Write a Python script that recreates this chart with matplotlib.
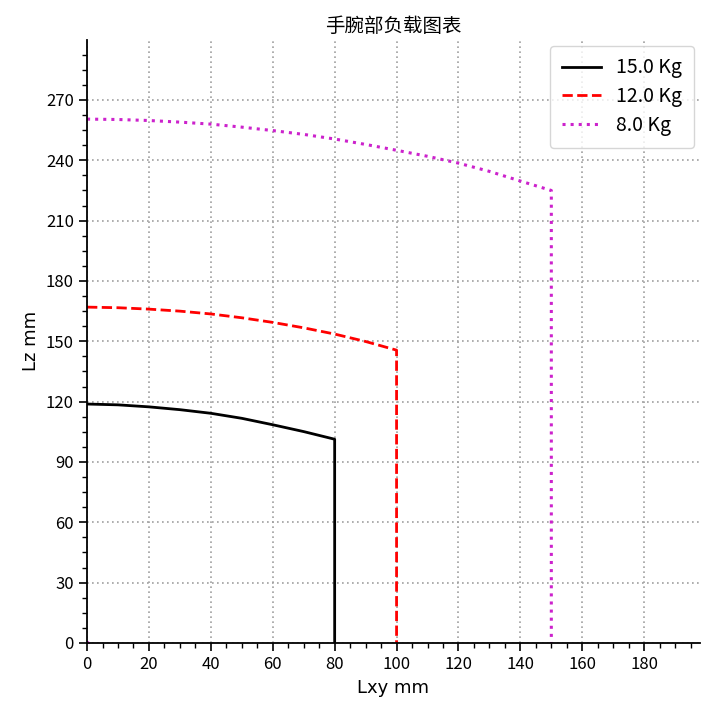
import matplotlib
matplotlib.use('Agg')
import matplotlib.pyplot as plt
from matplotlib.ticker import MultipleLocator

plt.rcParams['font.family'] = ['Noto Sans CJK SC', 'DejaVu Sans']

# 15.0 Kg
x15 = [0, 10, 20, 30, 40, 50, 60, 70, 80, 80]
z15 = [118.8, 118.4, 117.4, 116.0, 114.2, 111.7, 108.5, 105.1, 101.3, 0]
# 12.0 Kg
x12 = [0, 10, 20, 30, 40, 50, 60, 70, 80, 90, 100, 100]
z12 = [167.0, 166.7, 166.0, 165.0, 163.6, 161.7, 159.4, 156.7, 153.6, 149.9, 145.6, 0]
# 8.0 Kg
x8 = [0, 10, 20, 30, 40, 50, 60, 70, 80, 90, 100, 110, 120, 130, 140, 150, 150]
z8 = [260.5, 260.3, 259.8, 259.0, 258.0, 256.5, 254.8, 252.9, 250.6, 247.9, 245.0, 242.0, 238.6, 234.5, 229.7, 225.0, 0]

labels = ['15.0 Kg', '12.0 Kg', '8.0 Kg']

fig = plt.figure(figsize=(7.02, 7.12), dpi=100)
ax = fig.add_axes([0.124, 0.097, 0.873, 0.847])

ax.plot(x15, z15, color='k', linestyle='-', linewidth=2.0, label=labels[0])
ax.plot(x12, z12, color='r', linestyle='--', linewidth=2.0, label=labels[1])
ax.plot(x8, z8, color='#cc22cc', linestyle=':', linewidth=2.2, label=labels[2])
ax.plot([0], [0], '.', color='#cc22cc', markersize=5)

ax.set_xlim(0, 198)
ax.set_ylim(0, 299.9)
ax.xaxis.set_major_locator(MultipleLocator(20))
ax.xaxis.set_minor_locator(MultipleLocator(5))
ax.yaxis.set_major_locator(MultipleLocator(30))
ax.yaxis.set_minor_locator(MultipleLocator(7.5))

ax.spines['top'].set_visible(False)
ax.spines['right'].set_visible(False)
ax.spines['left'].set_linewidth(1.3)
ax.spines['bottom'].set_linewidth(1.3)
ax.tick_params(which='major', length=6, width=1.2, labelsize=12)
ax.tick_params(which='minor', length=3.5, width=1.0)

ax.grid(True, which='major', linestyle=(0, (1, 2)), color='#a0a0a0', linewidth=1.2)

ax.set_xlabel('Lxy mm', fontsize=13, family=['DejaVu Sans'])
ax.set_ylabel('Lz mm', fontsize=13, family=['DejaVu Sans'])
ax.set_title('手腕部负载图表', fontsize=14)
ax.legend(loc='upper right', fontsize=14, handlelength=2.0, borderpad=0.6,
          labelspacing=0.4, borderaxespad=0.3)

fig.savefig('out.png')
